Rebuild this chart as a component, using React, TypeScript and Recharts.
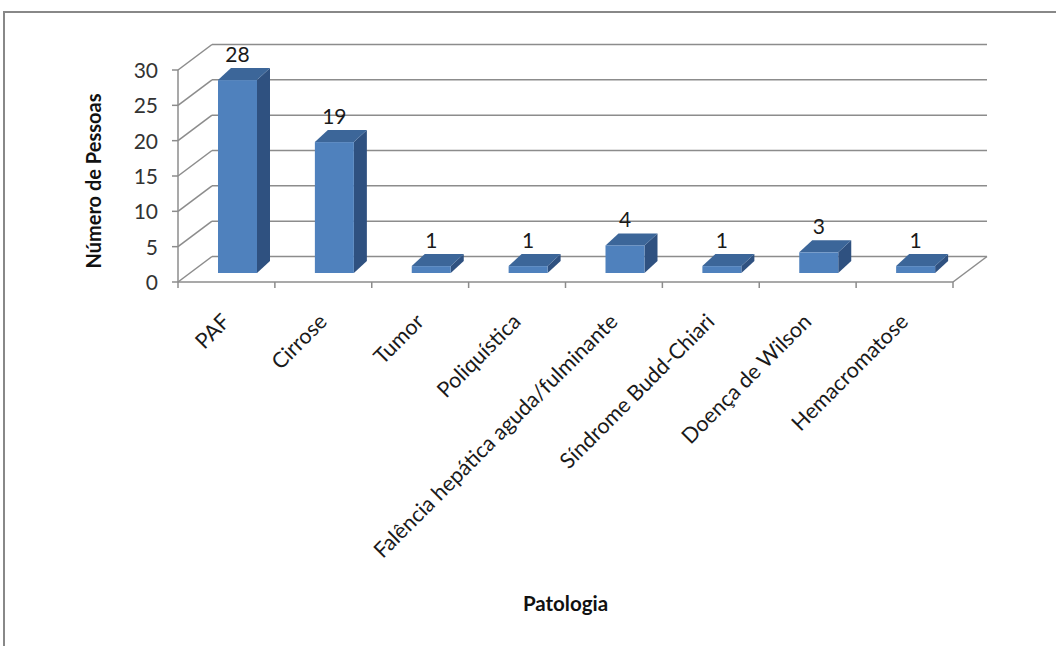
import React from 'react';
import { BarChart, Bar, XAxis, YAxis, CartesianGrid, LabelList, Label } from 'recharts';

const categories = [
  'PAF',
  'Cirrose',
  'Tumor',
  'Poliquística',
  'Falência hepática aguda/fulminante',
  'Síndrome Budd-Chiari',
  'Doença de Wilson',
  'Hemacromatose',
];
const pessoas = [28, 19, 1, 1, 4, 1, 3, 1];
const yTicks = [0, 5, 10, 15, 20, 25, 30];

const data = categories.map((name, i) => ({ name, pessoas: pessoas[i] }));

const W = 1056;
const H = 646;
const FONT = 'Lato, "Open Sans", sans-serif';
const AXIS = '#8c8c8c';

// plot box (front plane)
const PLOT_LEFT = 178;
const PLOT_RIGHT = 953;
const PLOT_TOP = 70;
const PLOT_BOTTOM = 282;
const Y_AXIS_W = 60;
const X_AXIS_H = 30;

// depth of the back wall and of each column
const WALL_DX = 34;
const WALL_DY = 25.5;
const COL_DX = 13;
const COL_DY = 12;
// columns stand a little behind the front edge of the floor
const COL_SHIFT_X = 11;
const COL_LIFT = 9;
const COL_SCALE = 0.975;

const columnBox = (x: number, y: number, width: number, height: number) => {
  const bottom = y + height - COL_LIFT;
  const h = height * COL_SCALE;
  return { left: x + COL_SHIFT_X, top: bottom - h, bottom, h, width };
};

const Column3D = (props: any) => {
  const { x, y, width, height } = props;
  const b = columnBox(x, y, width, height);
  const r = b.left + b.width;
  return (
    <g>
      <polygon
        points={`${r},${b.top} ${r + COL_DX},${b.top - COL_DY} ${r + COL_DX},${b.bottom - COL_DY} ${r},${b.bottom}`}
        fill="#2f5180"
      />
      <polygon
        points={`${b.left},${b.top} ${b.left + COL_DX},${b.top - COL_DY} ${r + COL_DX},${b.top - COL_DY} ${r},${b.top}`}
        fill="#3c6699"
      />
      <rect x={b.left} y={b.top} width={b.width} height={b.h} fill="#4f81bd" />
    </g>
  );
};

const ValueLabel = (props: any) => {
  const { x, y, width, height, value } = props;
  const b = columnBox(x, y, width, height);
  return (
    <text
      x={b.left + b.width / 2}
      y={b.top - 18}
      textAnchor="middle"
      fontSize={21}
      fontFamily={FONT}
      fill="#1a1a1a"
    >
      {value}
    </text>
  );
};

// each horizontal grid line becomes a diagonal on the side wall plus a line on the back wall
const WallLine = (props: any) => {
  const { x1, y1, x2 } = props;
  const bx = x1 + WALL_DX;
  const by = y1 - WALL_DY;
  const isFloor = Math.abs(y1 - PLOT_BOTTOM) < 1;
  const band = (PLOT_RIGHT - PLOT_LEFT) / categories.length;
  return (
    <g stroke={AXIS} strokeWidth={1.5} fill="none">
      <line x1={x1} y1={y1} x2={bx} y2={by} />
      <line x1={bx} y1={by} x2={x2 + WALL_DX} y2={by} />
      {isFloor && <line x1={x2} y1={y1} x2={x2 + WALL_DX} y2={by} />}
      {isFloor &&
        categories.concat(['']).map((_, k) => (
          <line key={k} x1={x1 + k * band} y1={y1} x2={x1 + k * band} y2={y1 + 6} />
        ))}
    </g>
  );
};

const CategoryTick = (props: any) => {
  const { x, y, payload } = props;
  const ax = x + 5;
  const ay = y + 41;
  return (
    <text
      x={ax}
      y={ay}
      textAnchor="end"
      transform={`rotate(-45, ${ax}, ${ay})`}
      fontSize={21.5}
      fontFamily={FONT}
      fill="#1a1a1a"
    >
      {payload.value}
    </text>
  );
};

const ValueTick = (props: any) => {
  const { x, y, payload } = props;
  return (
    <text x={x} y={y + 8} textAnchor="end" fontSize={21} fontFamily={FONT} fill="#333">
      {payload.value}
    </text>
  );
};

export default function App() {
  return (
    <div style={{ position: 'absolute', left: 0, top: 0, width: W, height: H, background: '#fff', overflow: 'hidden' }}>
      <div
        style={{
          position: 'absolute',
          left: 3,
          top: 11,
          width: W,
          height: H,
          borderLeft: '2px solid #888',
          borderTop: '2px solid #888',
        }}
      />
      <BarChart
        width={W}
        height={H}
        data={data}
        margin={{
          top: PLOT_TOP,
          right: W - PLOT_RIGHT,
          left: PLOT_LEFT - Y_AXIS_W,
          bottom: H - PLOT_BOTTOM - X_AXIS_H,
        }}
        style={{ position: 'absolute', left: 0, top: 0, fontFamily: FONT }}
      >
        <CartesianGrid vertical={false} horizontal={WallLine} />
        <XAxis
          dataKey="name"
          interval={0}
          height={X_AXIS_H}
          tickLine={false}
          tickSize={0}
          tickMargin={0}
          axisLine={{ stroke: AXIS, strokeWidth: 1.5 }}
          tick={CategoryTick}
        >
          <Label
            content={(p: any) => {
              const vb = p.viewBox;
              return (
                <text
                  x={vb.x + vb.width / 2}
                  y={vb.y + 329}
                  textAnchor="middle"
                  fontSize={20.5}
                  fontWeight="bold"
                  fontFamily={FONT}
                  fill="#111"
                >
                  Patologia
                </text>
              );
            }}
          />
        </XAxis>
        <YAxis
          width={Y_AXIS_W}
          domain={[0, 30]}
          ticks={yTicks}
          interval={0}
          tickSize={6}
          tickMargin={14}
          axisLine={{ stroke: AXIS, strokeWidth: 1.5 }}
          tickLine={{ stroke: AXIS, strokeWidth: 1.5 }}
          tick={ValueTick}
        >
          <Label
            content={(p: any) => {
              const vb = p.viewBox;
              const cx = vb.x - 17;
              const cy = vb.y + vb.height / 2 + 5;
              return (
                <text
                  x={cx}
                  y={cy}
                  textAnchor="middle"
                  transform={`rotate(-90, ${cx}, ${cy})`}
                  fontSize={20}
                  fontWeight="bold"
                  fontFamily={FONT}
                  fill="#111"
                >
                  Número de Pessoas
                </text>
              );
            }}
          />
        </YAxis>
        <Bar dataKey="pessoas" barSize={39} shape={Column3D} isAnimationActive={false}>
          <LabelList dataKey="pessoas" content={ValueLabel} />
        </Bar>
      </BarChart>
    </div>
  );
}
